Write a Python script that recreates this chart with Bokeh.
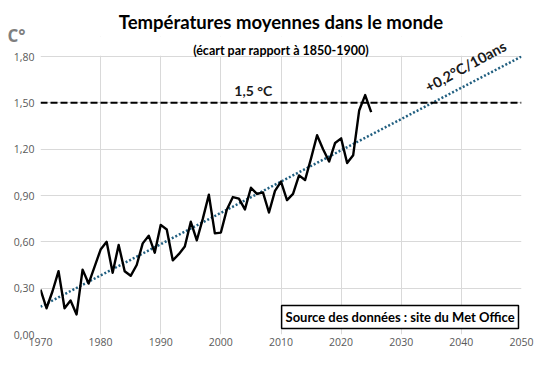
from bokeh.plotting import figure
from bokeh.models import Span, Label, FixedTicker, ColumnDataSource, Title, BoxAnnotation
from bokeh.embed import file_html
from bokeh.resources import INLINE

# ---- data ----
years = list(range(1970, 2026))
anomaly = [0.29, 0.17, 0.28, 0.41, 0.17, 0.22, 0.13, 0.42, 0.33, 0.44,
           0.55, 0.60, 0.40, 0.58, 0.41, 0.38, 0.45, 0.59, 0.64, 0.53,
           0.71, 0.68, 0.48, 0.52, 0.57, 0.73, 0.61, 0.75, 0.905, 0.655,
           0.66, 0.81, 0.89, 0.88, 0.81, 0.95, 0.91, 0.92, 0.79, 0.93,
           0.99, 0.87, 0.91, 1.03, 1.00, 1.14, 1.29, 1.20, 1.12, 1.24,
           1.27, 1.11, 1.16, 1.45, 1.55, 1.44]
trend_years = [1970, 2050]
trend_values = [0.18, 1.80]
threshold = 1.5

x_ticks = [1970, 1980, 1990, 2000, 2010, 2020, 2030, 2040, 2050]
y_ticks = [0.0, 0.3, 0.6, 0.9, 1.2, 1.5, 1.8]
y_tick_labels = ["0,00", "0,30", "0,60", "0,90", "1,20", "1,50", "1,80"]

title_text = "Températures moyennes dans le monde"
subtitle_text = "(écart par rapport à 1850-1900)"
unit_text = "C°"
threshold_text = "1,5 °C"
trend_text = "+0,2°C/10ans"
source_text = "Source des données : site du Met Office"

GRID = "#d9d9d9"
TICK = "#595959"
TREND = "#215f80"

# frame extends a little above the 1.80 gridline so the rotated label fits
p = figure(width=541, height=352, output_backend="svg", toolbar_location=None,
           x_range=(1970, 2050), y_range=(0, 1.9295),
           min_border_left=40, min_border_right=20,
           min_border_top=36, min_border_bottom=18)
p.outline_line_color = None
p.background_fill_color = "white"
p.border_fill_color = "white"

for ax in (p.xaxis, p.yaxis):
    ax.axis_line_color = None
    ax.major_tick_line_color = None
    ax.minor_tick_line_color = None
    ax.major_tick_out = 0
    ax.major_tick_in = 0
    ax.minor_tick_out = 0
    ax.minor_tick_in = 0
    ax.major_label_text_font = "Open Sans"
    ax.major_label_text_font_size = "10.5px"
    ax.major_label_text_color = TICK
p.xaxis.ticker = FixedTicker(ticks=x_ticks)
p.yaxis.ticker = FixedTicker(ticks=y_ticks)
p.yaxis.major_label_overrides = {t: l for t, l in zip(y_ticks, y_tick_labels)}
p.xaxis.major_label_standoff = 3
p.yaxis.major_label_standoff = 6
p.grid.grid_line_color = GRID
p.grid.grid_line_width = 1

# hide the vertical gridlines above the top of the value axis
p.add_layout(BoxAnnotation(bottom=y_ticks[-1] + 0.005, fill_color="white", fill_alpha=1,
                           line_alpha=0))

# main title (outer row) and unit label (row next to the frame)
p.title.text = title_text
p.title.align = "center"
p.title.text_font = "Lato"
p.title.text_font_style = "bold"
p.title.text_font_size = "18.5px"
p.title.text_color = "black"
p.title.standoff = 0
unit_title = Title(text=unit_text, align="left", offset=-33, text_font="Open Sans",
                   text_font_style="bold", text_font_size="17px", text_color="#7f7f7f")
try:
    unit_title.standoff = -21
except Exception:
    unit_title.standoff = 0
p.add_layout(unit_title, "above")

# threshold line
p.add_layout(Span(location=threshold, dimension="width", line_color="black",
                  line_width=2, line_dash="7 3"))

# trend
p.line(trend_years, trend_values, line_color=TREND, line_width=2.5, line_dash="2 2")

# data
src = ColumnDataSource(dict(x=years, y=anomaly))
p.line("x", "y", source=src, line_color="black", line_width=2.4, line_join="round")

# subtitle (inside the extended frame, screen units from frame bottom-left)
p.add_layout(Label(x=240.5, y=284, x_units="screen", y_units="screen", text=subtitle_text,
                   text_font="Lato", text_font_style="bold", text_font_size="12.5px",
                   text_color="black", text_align="center", text_baseline="alphabetic"))

# labels inside the plot
p.add_layout(Label(x=2005.4, y=threshold, y_offset=4, text=threshold_text,
                   text_font="Lato", text_font_style="bold", text_font_size="14px",
                   text_color="#1a1a1a", text_align="center", text_baseline="bottom"))
p.add_layout(Label(x=2040.7, y=1.736, text=trend_text, angle=0.5,
                   text_font="Lato", text_font_style="bold", text_font_size="14.5px",
                   text_color="#1a1a1a", text_align="center", text_baseline="middle"))

# source box
box_left, box_right, box_bottom, box_top = 2010.1, 2049.5, 0.039, 0.188
p.add_layout(BoxAnnotation(left=box_left, right=box_right, bottom=box_bottom, top=box_top,
                           fill_color="white", fill_alpha=1, line_color="black",
                           line_width=1.5, line_alpha=1))
p.add_layout(Label(x=(box_left + box_right) / 2, y=(box_bottom + box_top) / 2,
                   text=source_text, text_font="Lato", text_font_style="bold",
                   text_font_size="13px", text_color="black",
                   text_align="center", text_baseline="middle"))

open("out.html", "w").write(file_html(p, INLINE))
